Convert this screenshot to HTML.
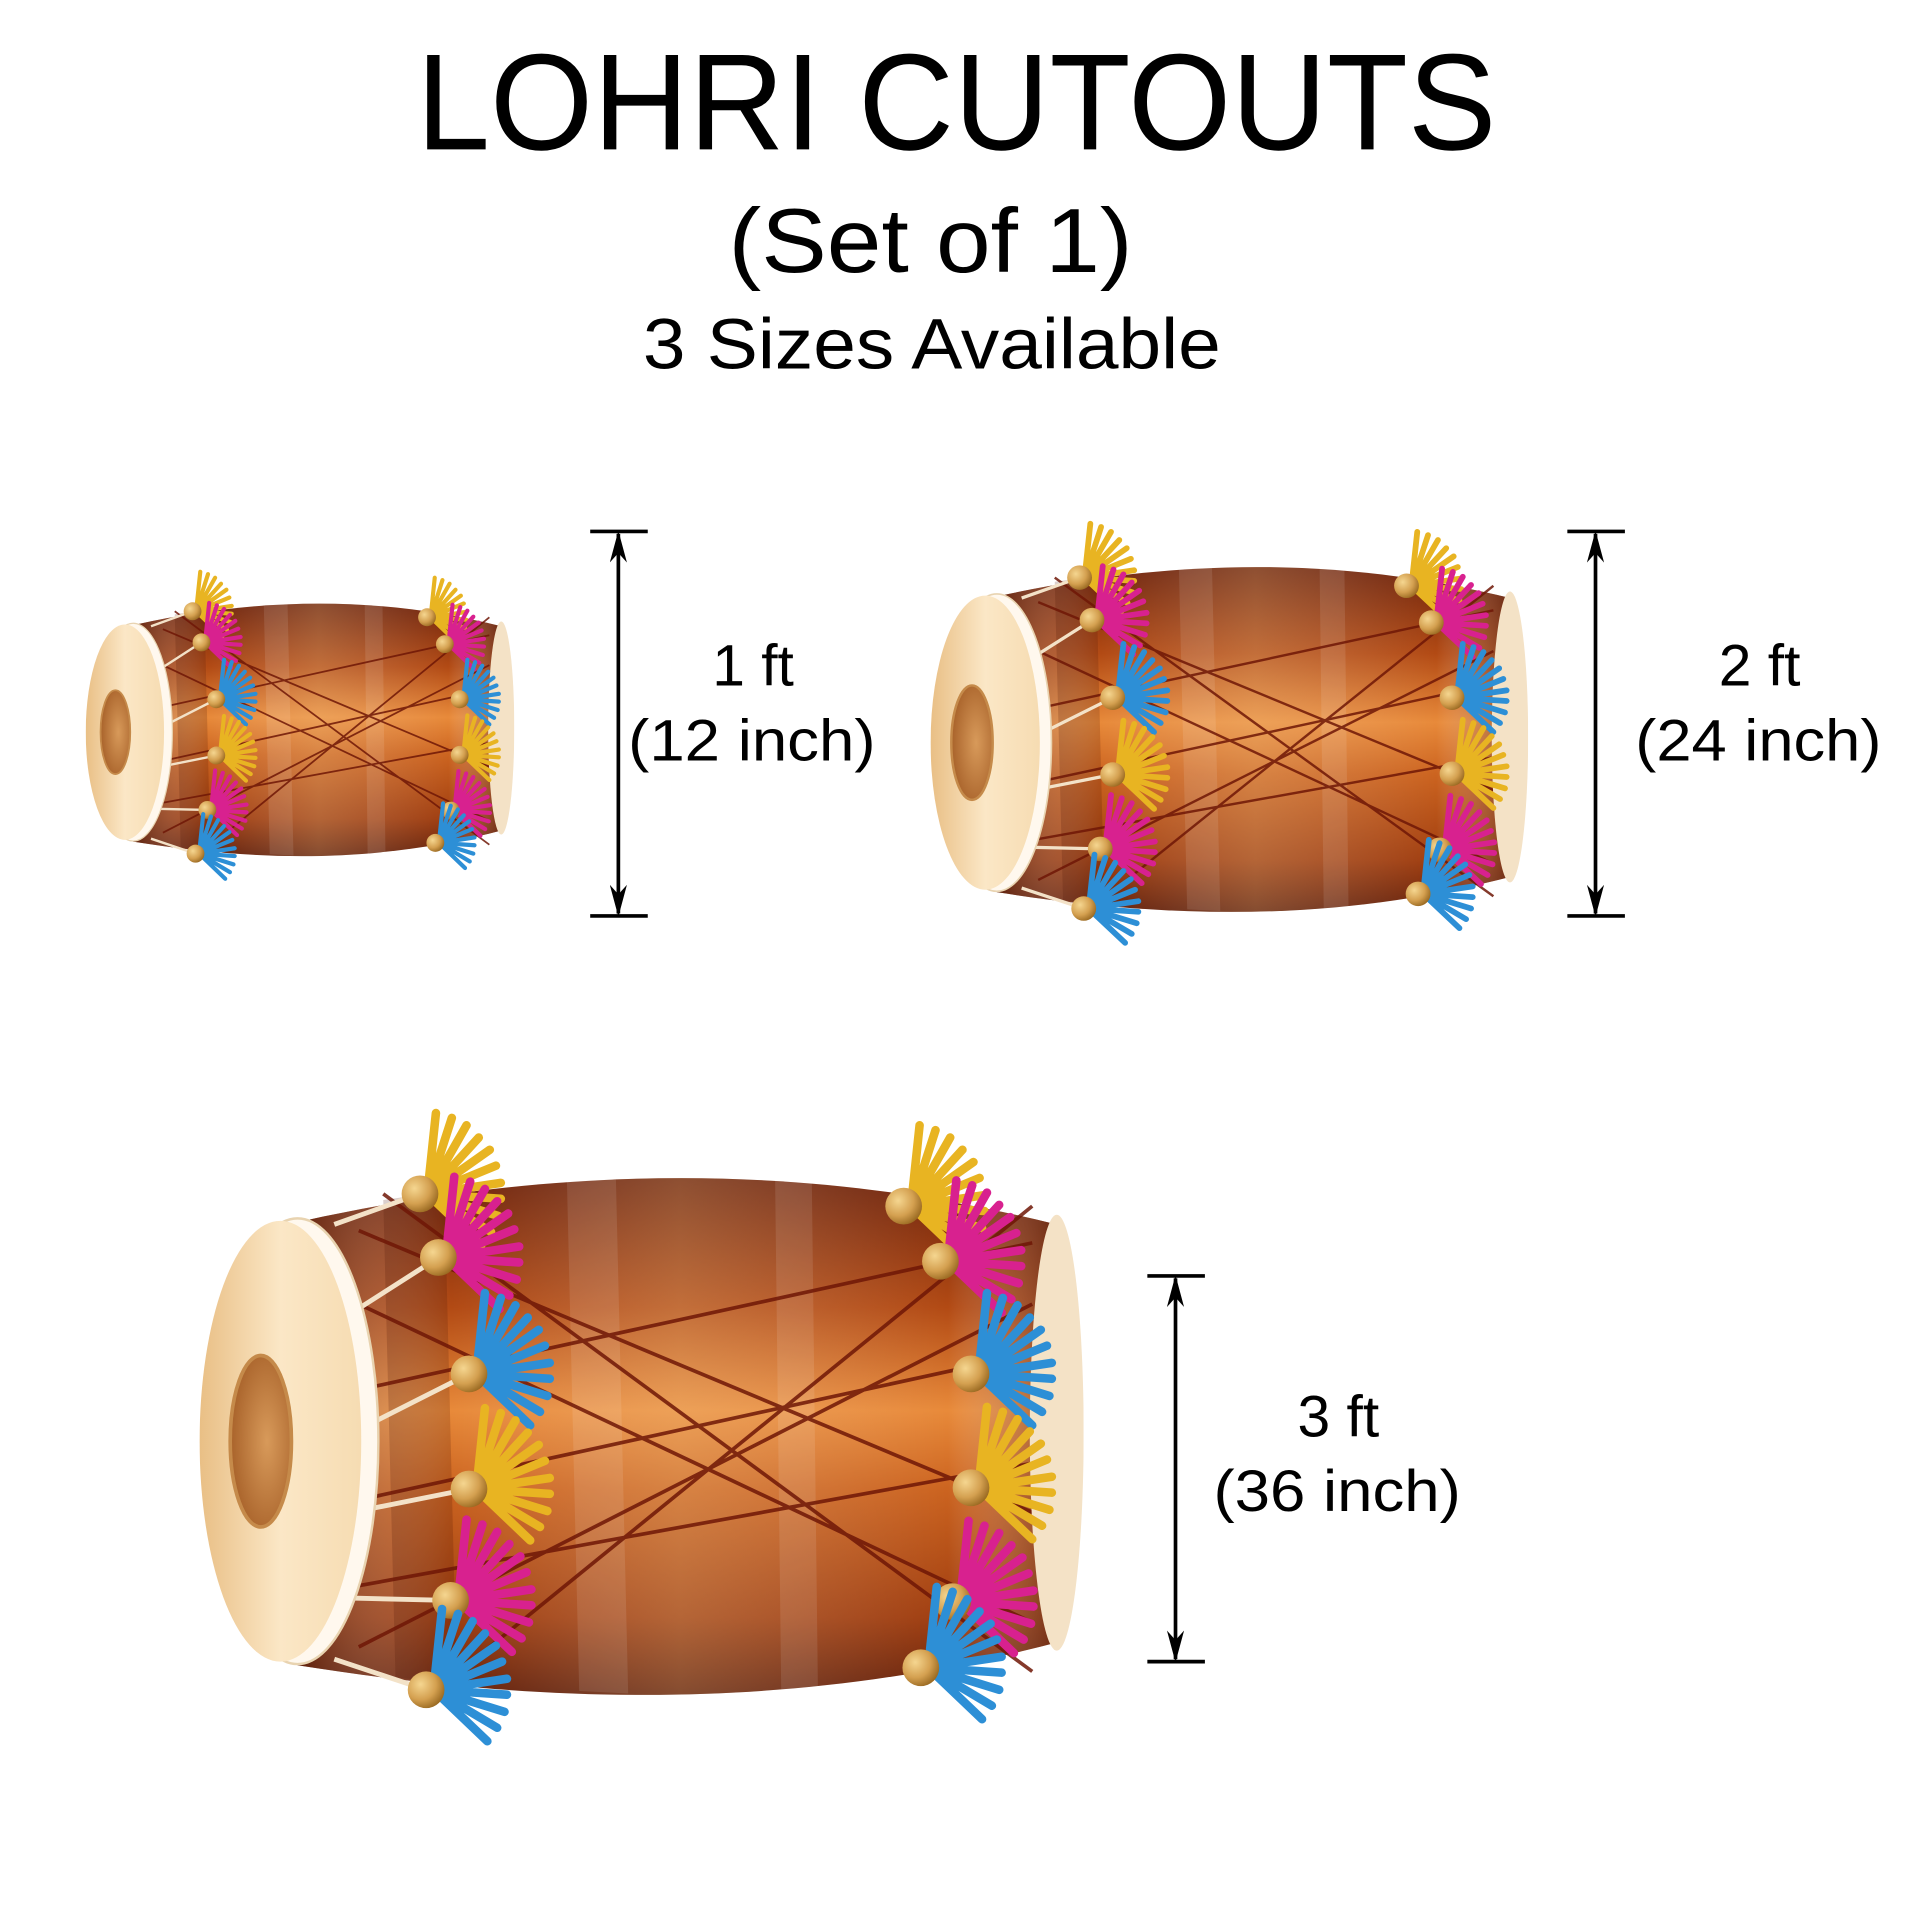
<!DOCTYPE html>
<html><head><meta charset="utf-8"><style>html,body{margin:0;padding:0;background:#fff}svg{display:block}</style></head>
<body>
<svg width="1920" height="1920" viewBox="0 0 1568 1568" xmlns="http://www.w3.org/2000/svg" font-family="'Liberation Sans', 'DejaVu Sans', sans-serif">
<defs>
<linearGradient id="bodyV" x1="0" y1="0" x2="0" y2="1">
<stop offset="0" stop-color="#6e220a"/><stop offset="0.25" stop-color="#b24a14"/><stop offset="0.45" stop-color="#e88a3a"/><stop offset="0.6" stop-color="#cc6420"/><stop offset="0.85" stop-color="#a03e10"/><stop offset="1" stop-color="#621e08"/>
</linearGradient>
<linearGradient id="bodyH" x1="0" y1="0" x2="1" y2="0">
<stop offset="0" stop-color="#4a1404" stop-opacity="0.6"/><stop offset="0.2" stop-color="#fff" stop-opacity="0"/><stop offset="0.5" stop-color="#fff0c0" stop-opacity="0.22"/><stop offset="0.85" stop-color="#fff" stop-opacity="0"/><stop offset="1" stop-color="#4a1404" stop-opacity="0.55"/>
</linearGradient>
<linearGradient id="head" x1="0" y1="0" x2="1" y2="0">
<stop offset="0" stop-color="#e9bf85"/><stop offset="0.5" stop-color="#fbe7c6"/><stop offset="1" stop-color="#f6dcb2"/>
</linearGradient>
<radialGradient id="hole" cx="0.6" cy="0.5" r="0.6"><stop offset="0" stop-color="#d89a5a"/><stop offset="1" stop-color="#a8622a"/></radialGradient>
<radialGradient id="gold" cx="0.35" cy="0.35" r="0.7"><stop offset="0" stop-color="#f5d690"/><stop offset="0.6" stop-color="#d4a050"/><stop offset="1" stop-color="#9a6a22"/></radialGradient>
<g id="tas">
<g stroke="currentColor" stroke-width="7" stroke-linecap="round" fill="none">
<path d="M6 0L13 -66M6 0L26 -62M6 0L38 -56M6 0L48 -46M6 0L57 -36M6 0L62 -23M6 0L66 -9M6 0L66 4M6 0L64 18M6 0L58 31M6 0L50 42"/>
</g>
<circle r="15" fill="url(#gold)"/>
</g>
<symbol id="drum" viewBox="0 0 722 532" preserveAspectRatio="none">
<path d="M85 92C300 45 500 45 700 95L705 435C500 490 300 490 80 455Z" fill="url(#bodyV)"/>
<path d="M85 92C300 45 500 45 700 95L705 435C500 490 300 490 80 455Z" fill="url(#bodyH)"/>
<g fill="#fff" opacity="0.1"><path d="M300 60L340 58L350 478L310 476Z"/><path d="M470 58L500 60L505 478L475 478Z"/></g>
<g fill="#4a1404" opacity="0.2"><path d="M150 75L200 68L210 470L160 465Z"/></g>
<g stroke="#6e1606" stroke-width="3" fill="none" opacity="0.85">
<path d="M130 100L680 330M130 160L680 420M130 230L680 110M130 320L680 200M130 390L680 290M130 440L680 160M150 70L680 460M200 470L680 80"/>
</g>
<ellipse cx="700" cy="265" rx="22" ry="178" fill="#f4e2c6"/>
<g stroke="#f3e2c8" stroke-width="4">
<path d="M110 95L180 70M120 170L195 122M125 265L220 217M125 330L220 311M120 400L205 402M110 450L185 475"/>
</g>
<ellipse cx="80" cy="272" rx="66" ry="182" fill="#fff8ee" stroke="#e8d3b0" stroke-width="2"/>
<ellipse cx="66" cy="272" rx="66" ry="180" fill="url(#head)"/>
<ellipse cx="50" cy="272" rx="25" ry="70" fill="url(#hole)" stroke="#c58a4a" stroke-width="3"/>
<use href="#tas" x="180" y="70" color="#e8b422"/>
<use href="#tas" x="195" y="122" color="#d8218f"/>
<use href="#tas" x="220" y="217" color="#2d8fd6"/>
<use href="#tas" x="220" y="311" color="#e8b422"/>
<use href="#tas" x="205" y="402" color="#d8218f"/>
<use href="#tas" x="185" y="475" color="#2d8fd6"/>
<use href="#tas" x="575" y="80" color="#e8b422"/>
<use href="#tas" x="605" y="125" color="#d8218f"/>
<use href="#tas" x="630" y="217" color="#2d8fd6"/>
<use href="#tas" x="630" y="310" color="#e8b422"/>
<use href="#tas" x="615" y="403" color="#d8218f"/>
<use href="#tas" x="589" y="457" color="#2d8fd6"/>
</symbol>
<marker id="ah" viewBox="0 0 10 10" refX="9" refY="5" markerWidth="26" markerHeight="14" orient="auto-start-reverse" markerUnits="userSpaceOnUse" preserveAspectRatio="none"><path d="M0 0L10 5L0 10L3 5Z" fill="#000"/></marker>
</defs>
<rect width="1568" height="1568" fill="#fff"/>
<g fill="#000" text-anchor="middle">
<text x="781" y="122" font-size="112" textLength="882" lengthAdjust="spacingAndGlyphs">LOHRI CUTOUTS</text>
<text x="760" y="222" font-size="74" textLength="330" lengthAdjust="spacingAndGlyphs">(Set of 1)</text>
<text x="761" y="301" font-size="58" textLength="472" lengthAdjust="spacingAndGlyphs">3 Sizes Available</text>
<g font-size="48">
<text x="615" y="560">1 ft</text><text x="614" y="621" textLength="202" lengthAdjust="spacingAndGlyphs">(12 inch)</text>
<text x="1437" y="560">2 ft</text><text x="1436" y="621" textLength="201" lengthAdjust="spacingAndGlyphs">(24 inch)</text>
<text x="1093" y="1173">3 ft</text><text x="1092" y="1234" textLength="202" lengthAdjust="spacingAndGlyphs">(36 inch)</text>
</g>
</g>
<use href="#drum" x="70" y="465" width="350" height="260"/>
<use href="#drum" x="760" y="425" width="488" height="355"/>
<use href="#drum" x="163" y="905" width="722" height="532"/>
<g stroke="#000" stroke-width="3">
<path d="M482 434H529M482 748H529M1280 434H1327M1280 748H1327M937 1042H984M937 1357H984"/>
<line x1="505" y1="436" x2="505" y2="746" marker-start="url(#ah)" marker-end="url(#ah)"/>
<line x1="1303" y1="436" x2="1303" y2="746" marker-start="url(#ah)" marker-end="url(#ah)"/>
<line x1="960" y1="1044" x2="960" y2="1355" marker-start="url(#ah)" marker-end="url(#ah)"/>
</g>
</svg>
</body></html>
